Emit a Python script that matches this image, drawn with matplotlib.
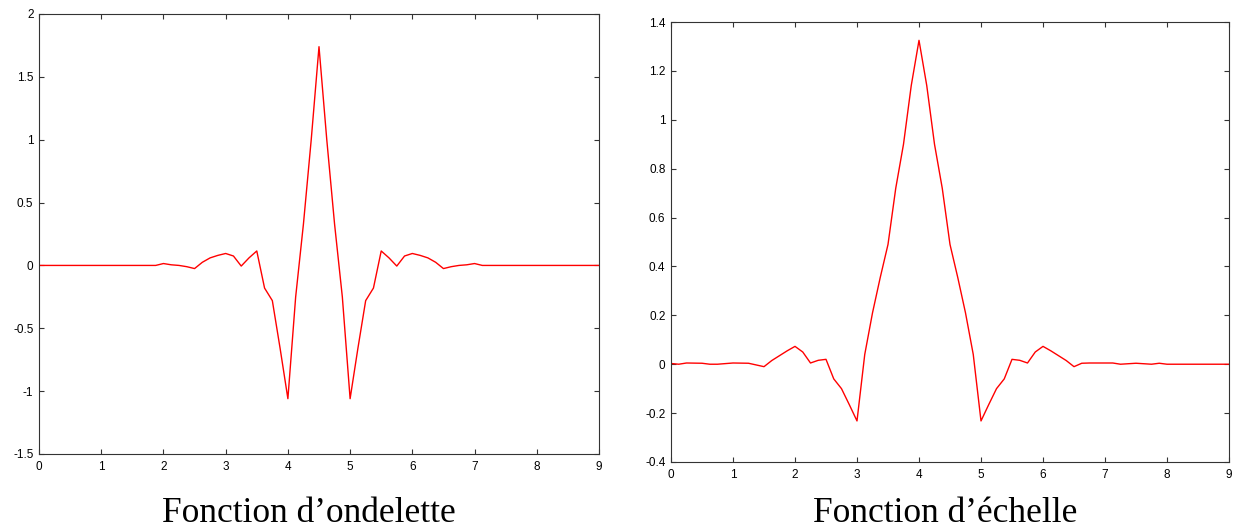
"""
Wavelet and scaling functions, side by side, MATLAB-style frames.
"""

import matplotlib
matplotlib.use("Agg")
import matplotlib.pyplot as plt

plt.rcParams.update({
    'font.family': 'Liberation Sans',
    'font.size': 8.5,
    'axes.unicode_minus': False,
    'axes.linewidth': 0.8,
    'axes.edgecolor': '#333333',
    'xtick.direction': 'in',
    'ytick.direction': 'in',
    'xtick.top': True,
    'ytick.right': True,
    'xtick.major.size': 3.5,
    'ytick.major.size': 3.5,
    'xtick.color': '#333333',
    'ytick.color': '#333333',
    'xtick.labelcolor': 'black',
    'ytick.labelcolor': 'black',
})

# wavelet function (left panel)
wavelet_x = [0.0, 1.875, 2.0, 2.125, 2.25, 2.375, 2.5, 2.625, 2.75, 2.875,
             3.0, 3.125, 3.25, 3.375, 3.5, 3.625, 3.75, 3.875, 4.0, 4.125,
             4.25, 4.375, 4.5, 4.625, 4.75, 4.875, 5.0, 5.125, 5.25, 5.375,
             5.5, 5.625, 5.75, 5.875, 6.0, 6.125, 6.25, 6.375, 6.5, 6.625,
             6.75, 6.875, 7.0, 7.125, 9.0]
wavelet_y = [0.0, 0.0, 0.015, 0.005, 0.0, -0.01, -0.025, 0.025, 0.06, 0.08,
             0.095, 0.075, -0.005, 0.06, 0.115, -0.18, -0.28, -0.66, -1.06, -0.25,
             0.33, 1.0, 1.74, 1.0, 0.33, -0.25, -1.06, -0.66, -0.28, -0.18,
             0.115, 0.06, -0.005, 0.075, 0.095, 0.08, 0.06, 0.025, -0.025, -0.01,
             0.0, 0.005, 0.015, 0.0, 0.0]

# scaling function (right panel)
scaling_x = [0.0, 0.125, 0.25, 0.5, 0.625, 0.75, 1.0, 1.25, 1.5, 1.625,
             1.75, 1.875, 2.0, 2.125, 2.25, 2.375, 2.5, 2.625, 2.75, 2.875,
             3.0, 3.125, 3.25, 3.375, 3.5, 3.625, 3.75, 3.875, 4.0, 4.125,
             4.25, 4.375, 4.5, 4.625, 4.75, 4.875, 5.0, 5.125, 5.25, 5.375,
             5.5, 5.625, 5.75, 5.875, 6.0, 6.125, 6.25, 6.375, 6.5, 6.625,
             6.75, 7.0, 7.125, 7.25, 7.5, 7.75, 7.875, 8.0, 9.0]
scaling_y = [0.003, 0.0, 0.005, 0.004, 0.0, 0.0, 0.005, 0.004, -0.01, 0.015,
             0.035, 0.055, 0.073, 0.05, 0.005, 0.016, 0.02, -0.06, -0.1, -0.165,
             -0.232, 0.04, 0.21, 0.355, 0.49, 0.72, 0.9, 1.14, 1.325, 1.14,
             0.9, 0.72, 0.49, 0.355, 0.21, 0.04, -0.232, -0.165, -0.1, -0.06,
             0.02, 0.016, 0.005, 0.05, 0.073, 0.055, 0.035, 0.015, -0.01, 0.004,
             0.005, 0.005, 0.005, 0.0, 0.004, 0.0, 0.004, 0.0, 0.0]

x_ticks = list(range(0, 10))
wavelet_yticks = [-1.5, -1, -0.5, 0, 0.5, 1, 1.5, 2]
wavelet_ylabels = ['-1.5', '-1', '-0.5', '0', '0.5', '1', '1.5', '2']
scaling_yticks = [-0.4, -0.2, 0, 0.2, 0.4, 0.6, 0.8, 1, 1.2, 1.4]
scaling_ylabels = ['-0.4', '-0.2', '0', '0.2', '0.4', '0.6', '0.8', '1', '1.2', '1.4']

titles = ['Fonction d\u2019ondelette', 'Fonction d\u2019\u00e9chelle']

W, H = 1236, 529
fig = plt.figure(figsize=(W / 100, H / 100), dpi=100)

ax1 = fig.add_axes([39 / W, (H - 454) / H, 560 / W, 440 / H])
ax2 = fig.add_axes([671 / W, (H - 462) / H, 558 / W, 440 / H])

panels = [
    (ax1, wavelet_x, wavelet_y, (-1.5, 2), wavelet_yticks, wavelet_ylabels),
    (ax2, scaling_x, scaling_y, (-0.4, 1.4), scaling_yticks, scaling_ylabels),
]

for ax, xs, ys, ylim, yt, yl in panels:
    ax.plot(xs, ys, color='#ff0000', linewidth=1.0)
    ax.set_xlim(0, 9)
    ax.set_ylim(*ylim)
    ax.set_xticks(x_ticks)
    ax.set_xticklabels([str(t) for t in x_ticks])
    ax.set_yticks(yt)
    ax.set_yticklabels(yl)
    ax.tick_params(axis='x', pad=5)
    ax.tick_params(axis='y', pad=4)

# captions under each panel
serif = ['Liberation Serif', 'DejaVu Serif']
fig.text(309 / W, 7 / H, titles[0], ha='center', va='baseline',
         fontsize=25.5, family=serif)
fig.text(945 / W, 7 / H, titles[1], ha='center', va='baseline',
         fontsize=25.5, family=serif)

fig.savefig('out.png', dpi=100)
